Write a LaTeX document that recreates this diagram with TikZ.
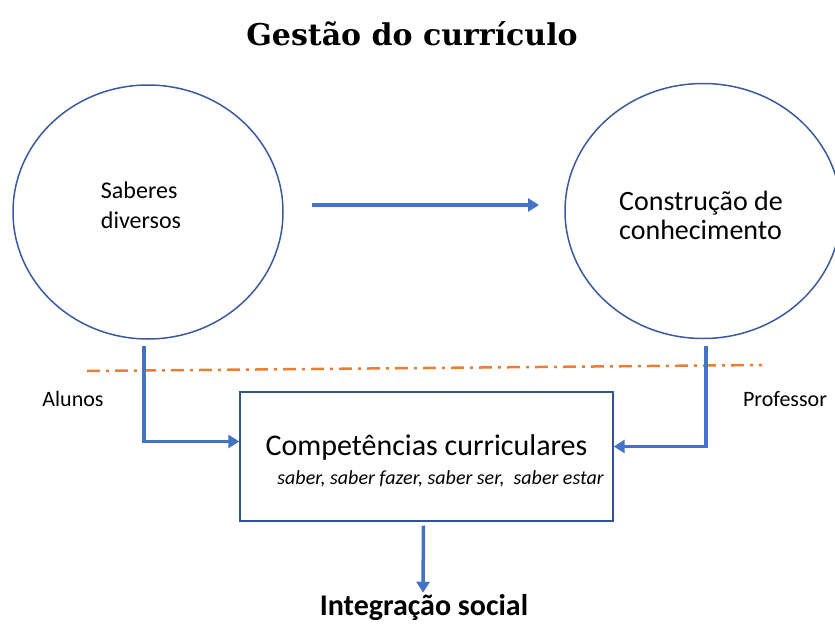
\documentclass[tikz,border=0pt]{standalone}
\usepackage{fontspec}
\setmainfont{Carlito}
\newfontfamily\titlefont{DejaVu Serif}
\usetikzlibrary{shapes.geometric,arrows.meta}

\definecolor{circblue}{HTML}{3A5A9C}
\definecolor{arrblue}{HTML}{4472C4}
\definecolor{boxblue}{HTML}{2F5597}
\definecolor{sepor}{HTML}{ED7D31}

\tikzset{
  circ/.style={ellipse,draw=circblue,line width=1.5pt,inner sep=0pt},
  circtxt/.style={align=left,inner sep=0pt},
  compbox/.style={draw=boxblue,line width=1.4pt,minimum width=373pt,minimum height=129pt,align=center,inner sep=0pt},
  arr/.style={draw=arrblue,line width=3.5pt,-{Triangle[length=11pt,width=13pt]}},
  sep/.style={draw=sepor,line width=2.5pt,dash pattern=on 13pt off 6pt on 3pt off 6pt},
  lbl/.style={font=\fontsize{22}{26}\selectfont}
}

\begin{document}
\begin{tikzpicture}[x=1pt,y=-1pt]
                \useasboundingbox (0,0) rectangle (835,629);
                %NODE
                \node[font=\titlefont\bfseries\fontsize{30}{34}\selectfont] (title) at (412,34) {Gestão do currículo};
                \node[circ,minimum width=270pt,minimum height=254pt] (saberes) at (148,212) {};
                \node[circtxt,font=\fontsize{24}{30}\selectfont] (sabtxt) at (141,205) {Saberes\\diversos};
                \node[circ,minimum width=276pt,minimum height=255pt] (constr) at (703,211) {};
                \node[circtxt,font=\fontsize{28}{29}\selectfont] (contxt) at (701,215) {Construção de\\conhecimento};
                \node[compbox] (box) at (426.5,456.5) {\fontsize{30}{34}\selectfont\rule{0pt}{30pt}Competências curriculares\\[9pt]
                  \fontsize{20}{24}\selectfont\itshape\hspace*{28pt}saber, saber fazer, saber ser, \ saber estar};
                \node[lbl] (alunos) at (73,399) {Alunos};
                \node[lbl] (prof) at (785,399) {Professor};
                \node[font=\bfseries\fontsize{30}{34}\selectfont,inner sep=2pt] (integ) at (424,608) {Integração social};
                \coordinate (h1) at (312,205);
                \coordinate (h2) at (539,205);
                \coordinate (s1) at (87,371);
                \coordinate (s2) at (762,365);

                %EDGE
                \draw[sep] (s1) -- (s2);
                \draw[arr] (h1) -- (h2);
                \draw[arr] ([xshift=-4pt,yshift=-6pt]saberes.south) |- ([yshift=15pt]box.west);
                \draw[arr] ([xshift=3pt,yshift=-7pt]constr.south) |- ([yshift=10pt]box.east);
                \draw[arr] ([xshift=-3pt,yshift=-4pt]box.south) -- ([xshift=-1pt]integ.north);
            \end{tikzpicture}
\end{document}
